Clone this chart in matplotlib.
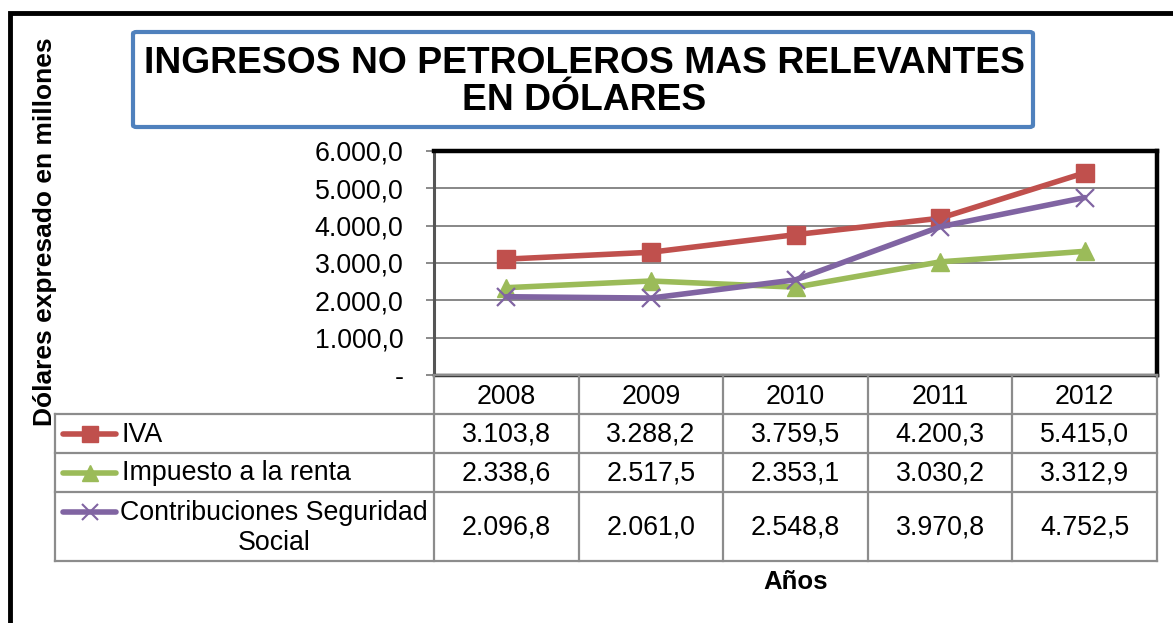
import matplotlib
matplotlib.use("Agg")
import matplotlib.pyplot as plt
from matplotlib.lines import Line2D
from matplotlib.patches import FancyBboxPatch

plt.rcParams['font.family'] = ['Liberation Sans', 'DejaVu Sans']

years = ["2008", "2009", "2010", "2011", "2012"]
iva = [3103.8, 3288.2, 3759.5, 4200.3, 5415.0]
renta = [2338.6, 2517.5, 2353.1, 3030.2, 3312.9]
seguridad = [2096.8, 2061.0, 2548.8, 3970.8, 4752.5]
series_names = ["IVA", "Impuesto a la renta", "Contribuciones Seguridad\nSocial"]
y_ticks = [0, 1000, 2000, 3000, 4000, 5000, 6000]
title = "INGRESOS NO PETROLEROS MAS RELEVANTES\nEN DÓLARES"
ylabel = "Dólares expresado en millones"
xlabel = "Años"

colors = ["#C0504D", "#9BBB59", "#8064A2"]
markers = ["s", "^", "x"]
series = [iva, renta, seguridad]

W, H = 1173, 623
fig = plt.figure(figsize=(W / 100, H / 100), dpi=100)
FS = 19.3


def fx(x):
    return x / W


def fy(y):
    return 1 - y / H


def fmt(v):
    s = f"{v:,.1f}"
    return s.replace(",", "X").replace(".", ",").replace("X", ".")


# outer border (left and top)
fig.add_artist(Line2D([fx(10), fx(10), fx(1173)], [fy(623), fy(13), fy(13)],
                      color="black", lw=3.5, solid_joinstyle="miter"))

# title box
fig.add_artist(FancyBboxPatch((fx(133), fy(127)), fx(1033) - fx(133), fy(32) - fy(127),
                              boxstyle="round,pad=0,rounding_size=0.003",
                              transform=fig.transFigure, fill=False,
                              edgecolor="#4F81BD", lw=3))
fig.text(fx(584), fy(82), title, ha="center", va="center", fontsize=26.8,
         fontweight="bold", linespacing=1.1)

# plot area
L, R, T, B = 434, 1157, 151, 375
ax = fig.add_axes([fx(L), fy(B), fx(R) - fx(L), fy(T) - fy(B)])
n = len(years)
x = list(range(n))
for vals, c, m in zip(series, colors, markers):
    ax.plot(x, vals, color=c, lw=4.0, marker=m, markersize=13.5,
            mew=1.6 if m == "x" else 1, zorder=3, solid_capstyle="round")
ax.set_xlim(-0.5, n - 0.5)
ax.set_ylim(0, 6000)
ax.set_yticks(y_ticks)
ax.set_yticklabels(["-" if v == 0 else fmt(v) for v in y_ticks], fontsize=FS)
ax.set_xticks([])
ax.tick_params(axis="y", direction="out", length=6, width=1.2, color="#777777", pad=16)
ax.grid(axis="y", color="#878787", lw=1.4)
ax.set_axisbelow(True)
for s in ["top", "right"]:
    ax.spines[s].set_linewidth(3.2)
    ax.spines[s].set_color("black")
ax.spines["bottom"].set_linewidth(2.5)
ax.spines["bottom"].set_color("#333333")
ax.spines["left"].set_linewidth(2.2)
ax.spines["left"].set_color("#555555")

# data table
col_left = [L + i * (R - L) / n for i in range(n + 1)]
rows = [375, 414, 453, 492, 561]
tl = 55
gc = "#8C8C8C"
glw = 1.6
fig.add_artist(Line2D([fx(L), fx(R)], [fy(rows[0]), fy(rows[0])], color=gc, lw=glw))
for yy in rows[1:]:
    fig.add_artist(Line2D([fx(tl), fx(R)], [fy(yy), fy(yy)], color=gc, lw=glw))
for xx in col_left:
    fig.add_artist(Line2D([fx(xx), fx(xx)], [fy(rows[0]), fy(rows[-1])], color=gc, lw=glw))
fig.add_artist(Line2D([fx(tl), fx(tl)], [fy(rows[1]), fy(rows[-1])], color=gc, lw=glw))

for i, yr in enumerate(years):
    cx = (col_left[i] + col_left[i + 1]) / 2
    fig.text(fx(cx), fy((rows[0] + rows[1]) / 2 + 2), yr, ha="center", va="center", fontsize=FS)
    for r, vals in enumerate(series):
        cy = (rows[r + 1] + rows[r + 2]) / 2 + 1
        fig.text(fx(cx), fy(cy), fmt(vals[i]), ha="center", va="center", fontsize=FS)

# legend keys in table
for r, (name, c, m) in enumerate(zip(series_names, colors, markers)):
    if "\n" in name:
        ky = rows[r + 1] + 20
        cy = (rows[r + 1] + rows[r + 2]) / 2 + 2
    else:
        ky = (rows[r + 1] + rows[r + 2]) / 2
        cy = ky + 1
    fig.add_artist(Line2D([fx(63), fx(116)], [fy(ky), fy(ky)], color=c, lw=4.0,
                          solid_capstyle="round"))
    fig.add_artist(Line2D([fx(89.5)], [fy(ky)], color=c, marker=m, markersize=11,
                          mew=1.5 if m == "x" else 1, lw=0))
    if "\n" in name:
        fig.text(fx(274), fy(cy), name, ha="center", va="center", fontsize=FS,
                 multialignment="center", linespacing=1.2)
    else:
        fig.text(fx(122), fy(cy), name, ha="left", va="center", fontsize=FS)

# axis titles
fig.text(fx(45), fy(232), ylabel, rotation=90, ha="center", va="center",
         fontsize=19, fontweight="bold")
fig.text(fx(796), fy(582), xlabel, ha="center", va="center", fontsize=18.5, fontweight="bold")

fig.savefig("out.png", dpi=100)
